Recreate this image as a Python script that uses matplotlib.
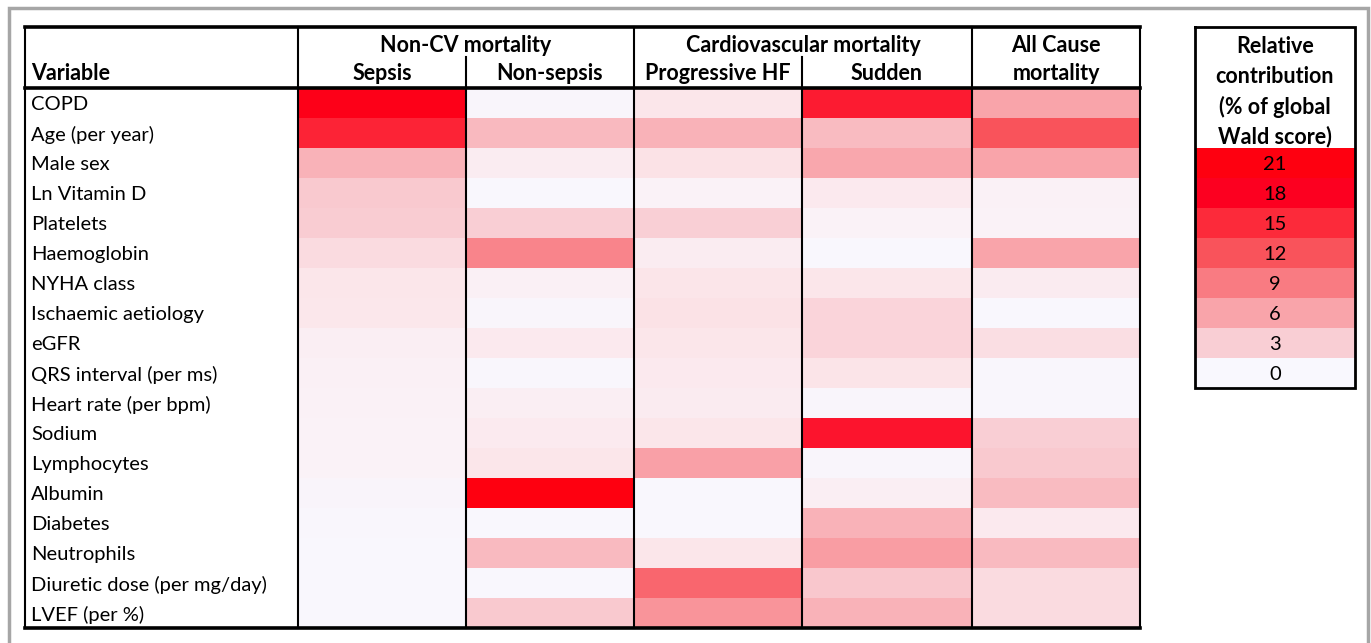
import matplotlib
matplotlib.use('Agg')
import matplotlib.pyplot as plt
from matplotlib.colors import LinearSegmentedColormap
import numpy as np

plt.rcParams['font.family'] = ['Lato', 'DejaVu Sans']

# data: relative contribution (% of global Wald score)
variables = ["COPD", "Age (per year)", "Male sex", "Ln Vitamin D", "Platelets",
             "Haemoglobin", "NYHA class", "Ischaemic aetiology", "eGFR",
             "QRS interval (per ms)", "Heart rate (per bpm)", "Sodium",
             "Lymphocytes", "Albumin", "Diabetes", "Neutrophils",
             "Diuretic dose (per mg/day)", "LVEF (per %)"]
sepsis      = [19.5, 15.5, 5.0, 3.3, 3.1, 2.2, 1.5, 1.4, 0.9, 0.7, 0.6, 0.5, 0.5, 0.4, 0.2, 0.1, 0.1, 0.1]
non_sepsis  = [0.3, 4.5, 1.0, 0.1, 3.0, 8.3, 0.7, 0.3, 1.3, 0.2, 0.9, 1.2, 1.5, 21.0, 0.1, 4.4, 0.1, 3.3]
prog_hf     = [1.5, 5.0, 1.8, 0.5, 2.9, 1.0, 1.6, 1.8, 1.5, 1.3, 1.1, 1.5, 6.3, 0.1, 0.1, 1.5, 10.5, 7.2]
sudden      = [16.0, 4.3, 5.8, 1.3, 0.5, 0.1, 1.5, 2.6, 2.6, 1.7, 0.3, 16.5, 0.3, 0.9, 5.0, 6.5, 3.5, 5.0]
all_cause   = [6.0, 12.0, 6.0, 0.6, 0.5, 6.0, 1.1, 0.1, 2.0, 0.2, 0.2, 3.0, 3.3, 4.3, 1.3, 4.4, 2.2, 2.2]

legend_ticks = [21, 18, 15, 12, 9, 6, 3, 0]
legend_colors = ["#F9F8FE", "#F9CDD3", "#F9A4AA", "#F97B82",
                 "#F9535B", "#FC2A3A", "#FC0020", "#FE0010"]

cmap = LinearSegmentedColormap.from_list(
    "wald", [(0.0, legend_colors[0]), (1.5 / 21, "#FBE6EA")] +
    [(v / 21.0, c) for v, c in zip(legend_ticks[::-1][1:], legend_colors[1:])])

fig = plt.figure(figsize=(13.71, 6.43), dpi=100)
ax = fig.add_axes([0, 0, 1, 1])
ax.set_xlim(0, 1371)
ax.set_ylim(643, 0)
ax.axis('off')

# grid geometry (pixels)
left, var_right = 25, 298
col_edges = np.array([298, 466, 634, 802, 972, 1140])
top, head_bot = 27, 88
row_h = 30
row_edges = head_bot + row_h * np.arange(len(variables) + 1)
bottom = row_edges[-1]

values = np.array([sepsis, non_sepsis, prog_hf, sudden, all_cause]).T
ax.pcolormesh(col_edges, row_edges, values, cmap=cmap, vmin=0, vmax=21,
              shading='flat', zorder=1)

# outer grey frame
ax.plot([9, 9, 1368, 1368], [643, 8, 8, 643], color='#A6A6A6', lw=2.5,
        solid_joinstyle='miter', zorder=0)

# table lines
ax.plot([left, col_edges[-1]], [top, top], color='black', lw=2.6, zorder=3)
ax.plot([left, col_edges[-1]], [head_bot, head_bot], color='black', lw=2.6, zorder=3)
ax.plot([left, col_edges[-1]], [bottom, bottom], color='black', lw=2.6, zorder=3)
for x in [left, var_right, col_edges[2], col_edges[4], col_edges[5]]:
    ax.plot([x, x], [top, bottom], color='black', lw=1.5, zorder=3)
for x in [col_edges[1], col_edges[3]]:
    ax.plot([x, x], [57, bottom], color='black', lw=1.5, zorder=3)

fs = 14.5
fb = 15.5
dy = 1.5
# header
ax.text(31, 72 + dy, "Variable", fontsize=fb, fontweight='bold', va='center', ha='left')
ax.text(466, 44 + dy, "Non-CV mortality", fontsize=fb, fontweight='bold', va='center', ha='center')
ax.text(803, 44 + dy, "Cardiovascular mortality", fontsize=fb, fontweight='bold', va='center', ha='center')
ax.text(1056, 44 + dy, "All Cause", fontsize=fb, fontweight='bold', va='center', ha='center')
sub_heads = ["Sepsis", "Non-sepsis", "Progressive HF", "Sudden", "mortality"]
for i, s in enumerate(sub_heads):
    ax.text((col_edges[i] + col_edges[i + 1]) / 2, 72 + dy, s, fontsize=fb,
            fontweight='bold', va='center', ha='center')

# row labels
for i, v in enumerate(variables):
    ax.text(31, (row_edges[i] + row_edges[i + 1]) / 2 + dy, v, fontsize=fs,
            va='center', ha='left')

# legend box
lg_l, lg_r, lg_top = 1195, 1355, 27
lg_cells = 148 + row_h * np.arange(len(legend_ticks) + 1)
ax.pcolormesh([lg_l, lg_r], lg_cells, np.array(legend_ticks, dtype=float)[:, None],
              cmap=cmap, vmin=0, vmax=21, shading='flat', zorder=1)
for i, t in enumerate(legend_ticks):
    ax.text((lg_l + lg_r) / 2, (lg_cells[i] + lg_cells[i + 1]) / 2 + dy, str(t),
            fontsize=fs, va='center', ha='center')
for j, s in enumerate(["Relative", "contribution", "(% of global", "Wald score)"]):
    ax.text((lg_l + lg_r) / 2, 45 + 30 * j + dy, s, fontsize=fb, fontweight='bold',
            va='center', ha='center')
ax.plot([lg_l, lg_r, lg_r, lg_l, lg_l],
        [lg_top, lg_top, lg_cells[-1], lg_cells[-1], lg_top],
        color='black', lw=2, solid_joinstyle='miter', zorder=3)

fig.savefig("out.png", dpi=100, facecolor='white')
